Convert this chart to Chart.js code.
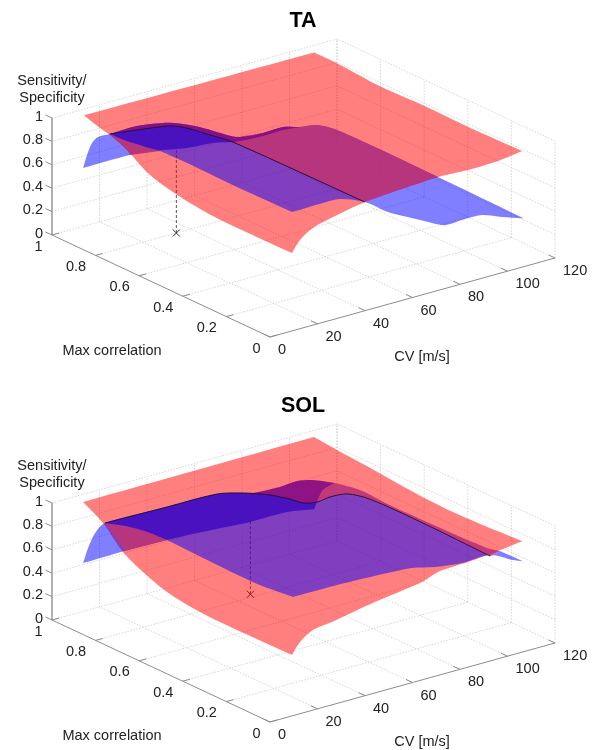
<!DOCTYPE html>
<html>
<head>
<meta charset="utf-8">
<script src="https://cdn.jsdelivr.net/npm/chart.js@4/dist/chart.umd.js"></script>
<style>
  body { margin: 0; background: #fff; }
  canvas { display: block; filter: blur(0.3px); }
</style>
</head>
<body>
<canvas id="taChart" width="595" height="385"></canvas>
<canvas id="solChart" width="595" height="365"></canvas>
<script>
// axis ticks
const cvTicks = [0, 20, 40, 60, 80, 100, 120]
const corrTicks = [0, 0.2, 0.4, 0.6, 0.8, 1]
const zTicks = [0, 0.2, 0.4, 0.6, 0.8, 1]

// all curves below are [CV, max correlation, sensitivity/specificity]
// TA
const taRedLeft = [[12,.984,.97],[12,.92,.93],[12,.865,.905],[12,.787,.845],[12,.695,.735],[12,.603,.68],[12,.484,.64],[12,.36,.62],[12,.19,.62],[12,.03,.625]]
const taRedFront = [[15.4,.03,.716],[20.8,.03,.788],[29.3,.03,.834],[42.7,.03,.887],[53.3,.03,.904],[73.5,.03,.927],[86.1,.03,.916],[97.5,.03,.92]]
const taRedBack = [[109,.03,.95],[109,.28,.94],[109,.48,.945],[109,.68,.935],[109,.88,.96],[109,.985,.96]]
const taBlueLeft = [[12,.988,.515],[12,.97,.643],[12,.947,.765],[12,.92,.84],[12,.865,.914]]
const taBlueRidge = [[12,.787,.921],[12,.635,.968],[12,.511,.974],[12,.282,.968],[12,.03,.974]]
const taBlueFront = [[25.1,.03,.978],[32.2,.03,.972],[42.7,.03,.887],[52.4,.03,.747],[60.8,.03,.657],[69.3,.03,.567],[76.4,.03,.5],[83.6,.03,.503],[92,.03,.498],[100.4,.03,.434],[109,.03,.375]]
const taBlueBack = [[109,.417,.39],[109,.637,.395],[109,.88,.388]]
const taBlueFold = [[22,.85,.938],[33,.85,.903],[41.4,.85,.846],[49.8,.85,.765],[59.9,.85,.649],[65.4,.85,.6],[75.1,.85,.58],[83.5,.85,.584],[90.7,.85,.544],[97.8,.85,.52],[106.3,.85,.43]]
const taBlueRear = [[11.7,.985,.52],[31.5,.985,.52],[44.1,.985,.49],[55.5,.985,.444],[66.4,.985,.426],[74.8,.985,.396]]
const taCrossing = [[12,.865,.914],[22,.85,.904],[35.9,.85,.861],[43,.85,.803],[52.8,.85,.688],[62.4,.85,.574],[42.7,.03,.887]]
const taPlumLower = [[83.5,.85,.558],[75.1,.85,.555],[65.4,.85,.566]]
const taMarker = [34, 0.8, 0.9]

// SOL
const solRedLeft = [[12,.988,.951],[12,.897,.851],[12,.805,.684],[12,.713,.593],[12,.603,.518],[12,.452,.479],[12,.282,.473],[12,.03,.479]]
const solRedFront = [[15.4,.03,.571],[20.8,.03,.643],[29.3,.03,.668],[46.9,.03,.735],[66.7,.03,.795],[73.5,.03,.842],[86.1,.03,.856],[97.5,.03,.878]]
const solRedBack = [[109,.03,.905],[109,.284,.88],[109,.486,.885],[109,.752,.927],[109,.88,.944],[109,.986,.962]]
const solBlueLeft = [[12,.988,.43],[12,.965,.579],[12,.933,.734],[12,.888,.859]]
const solBlueCrest = [[34.7,.85,.902],[55.7,.85,.894],[66.7,.85,.841],[78,.85,.761],[82.2,.85,.72],[86.4,.85,.679],[91.9,.85,.614],[97.8,.85,.589],[109,.912,.515],[109,.834,.609],[109,.729,.656],[109,.486,.663],[109,.178,.65]]
const solBlueTip = [[109,.133,.732],[109,.027,.738]]
const solBlueFront = [[12.4,.03,.972],[34.3,.03,.968],[54.1,.03,.951],[62.5,.03,.938],[72.2,.03,.892],[83.6,.03,.862],[95.4,.03,.864],[105,.03,.768]]
const solBlueRidge = [[12,.772,.926],[12,.68,.955],[12,.603,.962],[12,.21,.946],[12,.025,.979]]
const solBlueRear = [[11.7,.985,.434],[29.3,.985,.438],[47,.985,.432],[59.7,.985,.42],[82,.985,.389],[97.6,.985,.386],[109,.985,.346]]
const solPlumTop = [[70.9,.85,.817],[82.2,.85,.805],[89.4,.85,.815],[96.1,.85,.786],[109,.889,.654],[109,.944,.546]]
const solMagentaTop = [[109,.889,.654],[109,.775,.694],[109,.637,.685],[109,.192,.706],[109,.133,.732]]
const solMarker = [67, 0.82, 0.86]

const RED = 'rgba(255,0,0,0.5)'
const BLUE = 'rgba(0,0,255,0.5)'
const MAGENTA = 'rgba(188,52,118,0.92)'
const PLUM = 'rgba(136,14,132,0.95)'
const INDIGO = 'rgba(72,16,190,0.95)'

function rev(list) { return list.slice().reverse() }

// fixed view of the 3d box, same for both panels
function project(cv, corr, z) {
  return {
    x: 270 + cv * 2.375 - corr * 218,
    y: 337 - cv * 0.6583 - corr * 102 - z * 117
  }
}

function path(points) { return points.map(p => project(p[0], p[1], p[2])) }

// repeat the sharp corners so the spline stays pointed there
function keepCorners(pts, closed) {
  const out = []
  const n = pts.length
  pts.forEach((p, i) => {
    out.push(p)
    const a = closed ? pts[(i - 1 + n) % n] : pts[i - 1]
    const b = closed ? pts[(i + 1) % n] : pts[i + 1]
    if (!a || !b) return
    let turn = Math.abs(Math.atan2(b.y - p.y, b.x - p.x) - Math.atan2(p.y - a.y, p.x - a.x))
    if (turn > Math.PI) turn = 2 * Math.PI - turn
    if (turn > 0.6) out.push({ x: p.x, y: p.y })
  })
  return out
}

function lineSet(points, color, width, dash) {
  return { data: path(points), borderColor: color, borderWidth: width, borderDash: dash || [], pointRadius: 0, fill: false, showLine: true }
}

function curveSet(points, color, width) {
  return { data: keepCorners(path(points), false), borderColor: color, borderWidth: width, pointRadius: 0, fill: false, showLine: true, tension: 0.3 }
}

function polySet(points, color) {
  const pts = keepCorners(path(points), true)
  return { data: pts.concat([{ x: pts[0].x, y: pts[0].y }]), borderWidth: 0, borderColor: 'transparent', backgroundColor: color, pointRadius: 0, fill: 'shape', showLine: true, tension: 0.3 }
}

function boxSets() {
  const grid = '#cccccc'
  const sets = []
  const dash = [1.5, 1.5]
  cvTicks.forEach(cv => {
    if (cv > 0) sets.push(lineSet([[cv,0,0],[cv,1,0]], grid, 0.8, dash))
    sets.push(lineSet([[cv,1,0],[cv,1,1]], grid, 0.8, dash))
  })
  corrTicks.forEach(c => {
    if (c > 0) sets.push(lineSet([[0,c,0],[120,c,0]], grid, 0.8, dash))
    sets.push(lineSet([[120,c,0],[120,c,1]], grid, 0.8, dash))
  })
  zTicks.forEach(z => {
    if (z > 0) {
      sets.push(lineSet([[0,1,z],[120,1,z]], grid, 0.8, dash))
      sets.push(lineSet([[120,0,z],[120,1,z]], grid, 0.8, dash))
    }
  })
  const axis = '#8c8c8c'
  sets.push(lineSet([[0,1,0],[0,0,0]], axis, 1))
  sets.push(lineSet([[0,0,0],[120,0,0]], axis, 1))
  sets.push(lineSet([[0,1,0],[0,1,1]], '#b0b0b0', 2))
  corrTicks.forEach(c => sets.push(lineSet([[0,c,0],[3,c,0]], axis, 1)))
  cvTicks.forEach(cv => sets.push(lineSet([[cv,0,0],[cv,0.03,0]], axis, 1)))
  zTicks.forEach(z => sets.push(lineSet([[0,1,z],[0,1.03,z]], axis, 1)))
  return sets
}

function markerSets(m) {
  return [
    lineSet([[m[0],m[1],0],[m[0],m[1],m[2]]], '#444', 0.9, [3, 2]),
    { data: path([[m[0],m[1],0]]), pointStyle: 'crossRot', pointRadius: 5, pointBorderColor: '#333', pointBorderWidth: 1, showLine: false }
  ]
}

const taLayers = [
  polySet(taRedLeft.concat(taRedFront, taRedBack), RED),
  polySet(taBlueLeft.concat(taBlueFold, rev(taBlueBack), [[109,.027,.38]], rev(taBlueFront), rev(taBlueRidge).slice(0,4), rev(taBlueRear.slice(0,3))), BLUE),
  polySet(taCrossing.slice(5).concat(taRedFront.slice(4,6), [[109,.417,.39],[109,.637,.395]], rev(taBlueFold.slice(5))), MAGENTA),
  polySet([taBlueRidge[1], taBlueRidge[0], taCrossing[0], [12,.787,.845], taBlueRear[1]], MAGENTA),
  polySet(taCrossing.slice(0,6).concat([taBlueRear[4], taBlueRear[3], taBlueRear[2], taBlueRidge[1], taBlueRidge[0]]), INDIGO),
  polySet([taBlueLeft[4]].concat(taBlueFold.slice(0,9), taPlumLower, rev(taCrossing.slice(0,6))), PLUM),
  curveSet(taCrossing, '#1c0a30', 0.9)
]

const solLayers = [
  polySet(solRedLeft.concat(solRedFront, solRedBack), RED),
  polySet(solBlueLeft.concat(solBlueCrest, solBlueTip, rev(solBlueFront), rev(solBlueRidge).slice(0,3), rev(solBlueRear.slice(0,3))), BLUE),
  polySet(solMagentaTop.concat(rev(solBlueCrest.slice(7)), [solPlumTop[5]]), MAGENTA),
  polySet([solBlueLeft[3]].concat(solBlueRidge.slice(0,3), [solBlueRear[1]]), MAGENTA),
  polySet(solPlumTop.concat(rev(solBlueCrest.slice(2,8))), PLUM),
  polySet([solBlueLeft[3]].concat(solBlueCrest.slice(0,8), rev(solBlueRear.slice(2)), solBlueRidge.slice(1,3).reverse(), [solBlueRidge[0]]), INDIGO),
  curveSet([solBlueLeft[3]].concat(solBlueCrest), '#1c0a30', 0.9)
]

const boxLabels = {
  id: 'boxLabels',
  afterDraw(chart, args, opts) {
    const ctx = chart.ctx
    const sx = chart.scales.x
    const sy = chart.scales.y
    const at = (cv, corr, z) => {
      const p = project(cv, corr, z)
      return { x: sx.getPixelForValue(p.x), y: sy.getPixelForValue(p.y) }
    }
    ctx.save()
    ctx.fillStyle = '#000'
    ctx.textBaseline = 'middle'
    ctx.textAlign = 'center'
    ctx.font = 'bold 21.5px "Liberation Sans", Arial, sans-serif'
    ctx.fillText(opts.title, 303, 21)

    ctx.fillStyle = '#222'
    ctx.font = '14.5px "Liberation Sans", Arial, sans-serif'
    ctx.fillText('Sensitivity/', 52, 81)
    ctx.fillText('Specificity', 52, 98)
    ctx.fillText('Max correlation', 112, 351)
    ctx.fillText('CV [m/s]', 422, 357)

    ctx.textAlign = 'right'
    zTicks.forEach(z => {
      const p = at(0, 1, z)
      ctx.fillText(String(z), p.x - 9, p.y - 1.5)
    })
    corrTicks.forEach(c => {
      const p = at(0, c, 0)
      ctx.fillText(String(c), p.x - 9.5, p.y + 11.5)
    })
    ctx.textAlign = 'left'
    cvTicks.forEach(cv => {
      const p = at(cv, 0, 0)
      ctx.fillText(String(cv), p.x + 8, p.y + 13)
    })
    ctx.restore()
  }
}

function drawPanel(id, title, height, layers, marker) {
  const sets = boxSets().concat(markerSets(marker), layers)
  sets.forEach((s, i) => { s.order = sets.length - i })
  return new Chart(document.getElementById(id), {
    type: 'scatter',
    data: { datasets: sets },
    plugins: [boxLabels],
    options: {
      responsive: false,
      animation: false,
      layout: { padding: 0, autoPadding: false },
      scales: {
        x: { type: 'linear', display: false, min: 0, max: 595 },
        y: { type: 'linear', display: false, min: 0, max: height, reverse: true }
      },
      plugins: {
        legend: { display: false },
        tooltip: { enabled: false },
        boxLabels: { title: title }
      }
    }
  })
}

drawPanel('taChart', 'TA', 385, taLayers, taMarker)
drawPanel('solChart', 'SOL', 365, solLayers, solMarker)
</script>
</body>
</html>
